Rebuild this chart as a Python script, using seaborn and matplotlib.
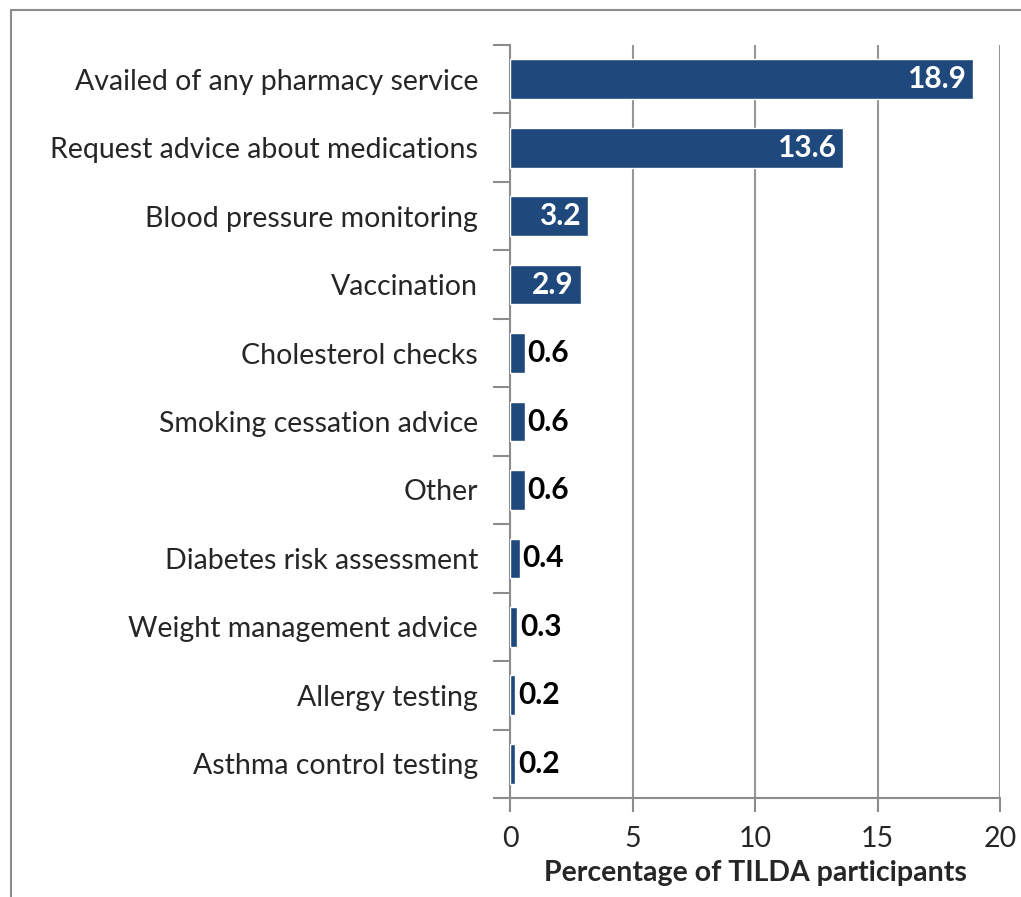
import seaborn as sns
import matplotlib.pyplot as plt
import matplotlib.patches as mpatches
import pandas as pd

services = ["Availed of any pharmacy service", "Request advice about medications",
            "Blood pressure monitoring", "Vaccination", "Cholesterol checks",
            "Smoking cessation advice", "Other", "Diabetes risk assessment",
            "Weight management advice", "Allergy testing", "Asthma control testing"]
percent = [18.9, 13.6, 3.2, 2.9, 0.6, 0.6, 0.6, 0.4, 0.3, 0.2, 0.2]
x_ticks = [0, 5, 10, 15, 20]

df = pd.DataFrame({"service": services, "pct": percent})

sns.set_style("white")
plt.rcParams['font.family'] = ['Lato', 'DejaVu Sans']

fig = plt.figure(figsize=(10.21, 8.97), dpi=100)
ax = fig.add_axes([510 / 1021, 1 - 798 / 897, 490 / 1021, 753 / 897])

sns.barplot(data=df, x="pct", y="service", color="#1F497D", width=0.58,
            saturation=1, ax=ax, zorder=3)

ax.set_xlim(0, 20)
ax.set_xticks(x_ticks)
ax.xaxis.grid(True, color="#969696", linewidth=1.5, zorder=0)
for s in ["top", "right"]:
    ax.spines[s].set_visible(False)
for s in ["left", "bottom"]:
    ax.spines[s].set_color("#8c8c8c")
    ax.spines[s].set_linewidth(1.5)

# category boundary ticks on the y axis
ax.set_yticks([i + 0.5 for i in range(-1, len(services))], minor=True)
ax.tick_params(axis="y", which="minor", length=12, width=1.5, color="#8c8c8c", left=True)
ax.tick_params(axis="y", which="major", length=0, labelsize=20.5, pad=23)
ax.tick_params(axis="x", which="major", length=10, width=1.5, color="#8c8c8c",
               direction="out", labelsize=20.5, pad=10, bottom=True)
ax.set_ylabel("")
ax.set_xlabel("Percentage of TILDA participants", fontsize=20.5, fontweight="bold", labelpad=6)
ax.set_ylim(len(services) - 0.5, -0.5)

for i, v in enumerate(percent):
    if v >= 2:
        ax.text(v - 0.3, i, f"{v:.1f}", color="white", fontsize=21.5, fontweight="bold",
                ha="right", va="center", zorder=4)
    else:
        ax.text(v + 0.12, i, f"{v:.1f}", color="black", fontsize=21.5, fontweight="bold",
                ha="left", va="center", zorder=4)

# outer frame of the chart area
fig.patches.append(mpatches.Rectangle((11 / 1021, -0.05), 1.1, 1 - 10 / 897 + 0.05,
                                      transform=fig.transFigure, fill=False,
                                      edgecolor="#8c8c8c", linewidth=1.5))

fig.savefig("out.png", dpi=100)
